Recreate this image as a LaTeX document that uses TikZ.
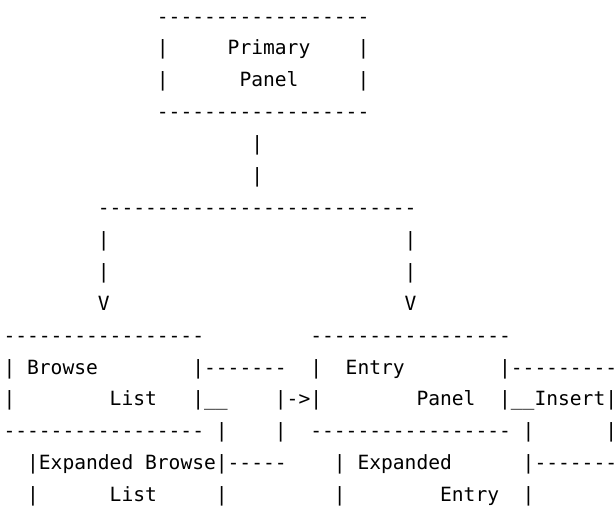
\documentclass[tikz,border=0pt]{standalone}
\usepackage{fontspec}
\setmonofont{DejaVu Sans Mono}
\usepackage{tikz}
\newcommand{\boxedge}{------------------}
\newcommand{\panedge}{-----------------}

\tikzset{
	ascii/.style={inner sep=0pt, outer sep=0pt, anchor=base west,
		font=\ttfamily\fontsize{19.6pt}{31.9pt}\selectfont}
}

\begin{document}
\begin{tikzpicture}[x=11.8pt, y=-31.9pt]
	\useasboundingbox (-0.297,0.276) rectangle (51.82,16.765);

	% primary panel
	\node[ascii] (primtop) at (13,1) {\boxedge};
	\node[ascii] (primleft) at (13,2) {|};
	\node[ascii] (primtext) at (19,2) {Primary};
	\node[ascii] (primright) at (30,2) {|};
	\node[ascii] (primleftb) at (13,3) {|};
	\node[ascii] (primtextb) at (20,3) {Panel};
	\node[ascii] (primrightb) at (30,3) {|};
	\node[ascii] (primbot) at (13,4) {\boxedge};

	% split
	\node[ascii] (stem) at (21,5) {|};
	\node[ascii] (stemb) at (21,6) {|};
	\node[ascii] (split) at (8,7) {---------------------------};
	\node[ascii] (legl) at (8,8) {|};
	\node[ascii] (legr) at (34,8) {|};
	\node[ascii] (leglb) at (8,9) {|};
	\node[ascii] (legrb) at (34,9) {|};
	\node[ascii] (arrl) at (8,10) {V};
	\node[ascii] (arrr) at (34,10) {V};

	% browse list and entry panel
	\node[ascii] (browsetop) at (0,11) {\panedge};
	\node[ascii] (entrytop) at (26,11) {\panedge};
	\node[ascii] (browseleft) at (0,12) {|};
	\node[ascii] (browsetext) at (2,12) {Browse};
	\node[ascii] (browselink) at (16,12) {|-------};
	\node[ascii] (entryleft) at (26,12) {|};
	\node[ascii] (entrytext) at (29,12) {Entry};
	\node[ascii] (entrylink) at (42,12) {|---------};
	\node[ascii] (browseleftb) at (0,13) {|};
	\node[ascii] (browsetextb) at (9,13) {List};
	\node[ascii] (browsehook) at (16,13) {|\_\_};
	\node[ascii] (toentry) at (23,13) {|->|};
	\node[ascii] (entrytextb) at (35,13) {Panel};
	\node[ascii] (insert) at (42,13) {|\_\_Insert|};
	\node[ascii] (browsebot) at (0,14) {\panedge};
	\node[ascii] (browsedrop) at (18,14) {|};
	\node[ascii] (linkdrop) at (23,14) {|};
	\node[ascii] (entrybot) at (26,14) {\panedge};
	\node[ascii] (entrydrop) at (44,14) {|};
	\node[ascii] (insertdrop) at (51,14) {|};

	% expanded views
	\node[ascii] (expbrowse) at (2,15) {|Expanded Browse|-----};
	\node[ascii] (expentryleft) at (28,15) {|};
	\node[ascii] (expentrytext) at (30,15) {Expanded};
	\node[ascii] (expentrylink) at (44,15) {|-------};
	\node[ascii] (expbrowseleft) at (2,16) {|};
	\node[ascii] (expbrowsetext) at (9,16) {List};
	\node[ascii] (expbrowseright) at (18,16) {|};
	\node[ascii] (expentryleftb) at (28,16) {|};
	\node[ascii] (expentrytextb) at (37,16) {Entry};
	\node[ascii] (expentryright) at (44,16) {|};
\end{tikzpicture}
\end{document}
